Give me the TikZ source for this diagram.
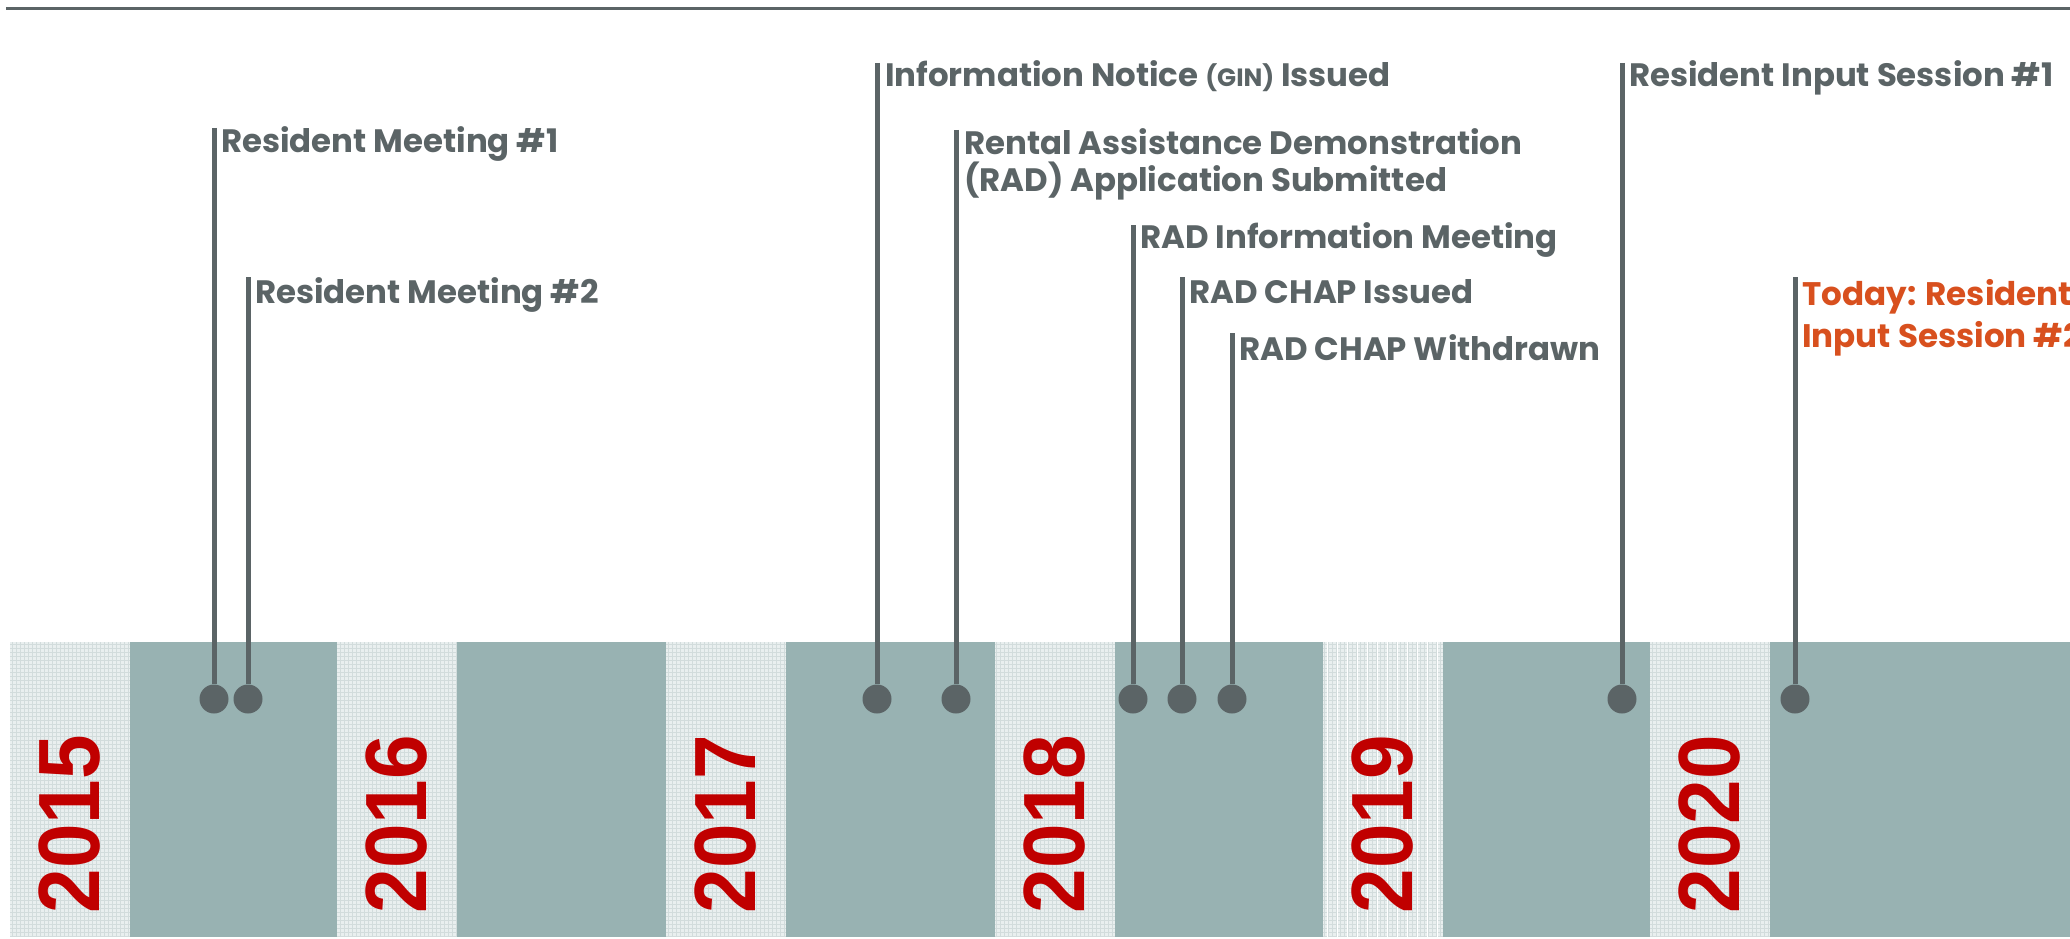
\documentclass[tikz,border=0pt]{standalone}
\usepackage{fontspec}
\setmainfont{Poppins}
\newfontfamily\yearfont{Liberation Sans}
\definecolor{band}{HTML}{98B2B2}
\definecolor{gtext}{HTML}{5B6466}
\definecolor{today}{HTML}{D8501E}
\definecolor{yred}{HTML}{C00000}
\definecolor{boxfill}{HTML}{E9EFEF}
\definecolor{boxgrid}{HTML}{D2DCDC}
\tikzset{
  stem/.style={draw=gtext, line width=5pt},
  dotn/.style={circle, fill=gtext, minimum size=29pt, inner sep=0pt},
  lbl/.style={anchor=base west, inner sep=0pt, text=gtext, font=\fontsize{32.4}{37}\selectfont\bfseries, align=left},
  tlbl/.style={lbl, text=today, font=\fontsize{32.6}{42}\selectfont\bfseries},
  yearlbl/.style={rotate=90, inner sep=0pt, text=yred, font=\fontsize{87}{87}\selectfont\yearfont\bfseries},
}
\newcommand{\yearbox}[2]{%
  \fill[boxfill] (#1,642) rectangle ++(120,295);
  \begin{scope}
    \clip (#1,642) rectangle ++(120,295);
    \draw[boxgrid, line width=0.7pt, step=4pt] (#1,642) grid ++(120,295);
  \end{scope}
  \node[yearlbl] (y#2) at (#1+60,824) {\scalebox{0.92}[1]{#2}};
}
\begin{document}
\begin{tikzpicture}[x=1pt,y=-1pt]
\useasboundingbox (0,0) rectangle (2070,939);
\fill[white] (0,0) rectangle (2070,939);
% top rule
\draw[gtext, line width=3pt] (6,8.5) -- (2070,8.5);
% band
\fill[band] (10,642) rectangle (2070,937);
\yearbox{10}{2015}
\yearbox{337}{2016}
\yearbox{666}{2017}
\yearbox{995}{2018}
\begin{scope}
  \fill[boxfill] (1323,642) rectangle ++(120,295);
  \clip (1323,642) rectangle ++(120,295);
  \draw[boxgrid, line width=0.7pt, step=4pt] (1323,642) grid ++(120,295);
  \foreach \k in {0,...,11} {\draw[white, line width=1pt] (1327+10*\k,642) -- ++(0,295);}
\end{scope}
\node[yearlbl] (y2019) at (1383,824) {\scalebox{0.92}[1]{2019}};
\yearbox{1650}{2020}
% events
\node[dotn] (d1) at (214,699) {};
\node[dotn] (d2) at (248,699) {};
\node[dotn] (d3) at (877,699) {};
\node[dotn] (d4) at (956,699) {};
\node[dotn] (d5) at (1133,699) {};
\node[dotn] (d6) at (1182,699) {};
\node[dotn] (d7) at (1232,699) {};
\node[dotn] (d8) at (1622,699) {};
\node[dotn] (d9) at (1795,699) {};
\coordinate (t1) at (214,128);
\coordinate (t2) at (248,277);
\coordinate (t3) at (877,63);
\coordinate (t4) at (956,130);
\coordinate (t5) at (1133,225);
\coordinate (t6) at (1182,277);
\coordinate (t7) at (1232,333);
\coordinate (t8) at (1622,63);
\coordinate (t9) at (1795,277);
\foreach \i in {1,...,9} {\draw[stem] (t\i) -- (d\i);}
\node[lbl] (l1) at (221,153) {Resident Meeting \#1};
\node[lbl] (l2) at (255,303) {Resident Meeting \#2};
\node[lbl] (l3) at (885,87) {Information Notice {\fontsize{25}{25}\selectfont(GIN)} Issued};
\node[lbl] (l4) at (964,192) {Rental Assistance Demonstration\\(RAD) Application Submitted};
\node[lbl] (l5) at (1140,248) {RAD Information Meeting};
\node[lbl] (l6) at (1189,303) {RAD CHAP Issued};
\node[lbl] (l7) at (1239,360) {RAD CHAP Withdrawn};
\node[lbl] (l8) at (1629,87) {Resident Input Session \#1};
\node[tlbl] (l9) at (1802,347) {Today: Resident\\Input Session \#2};
\end{tikzpicture}
\end{document}
